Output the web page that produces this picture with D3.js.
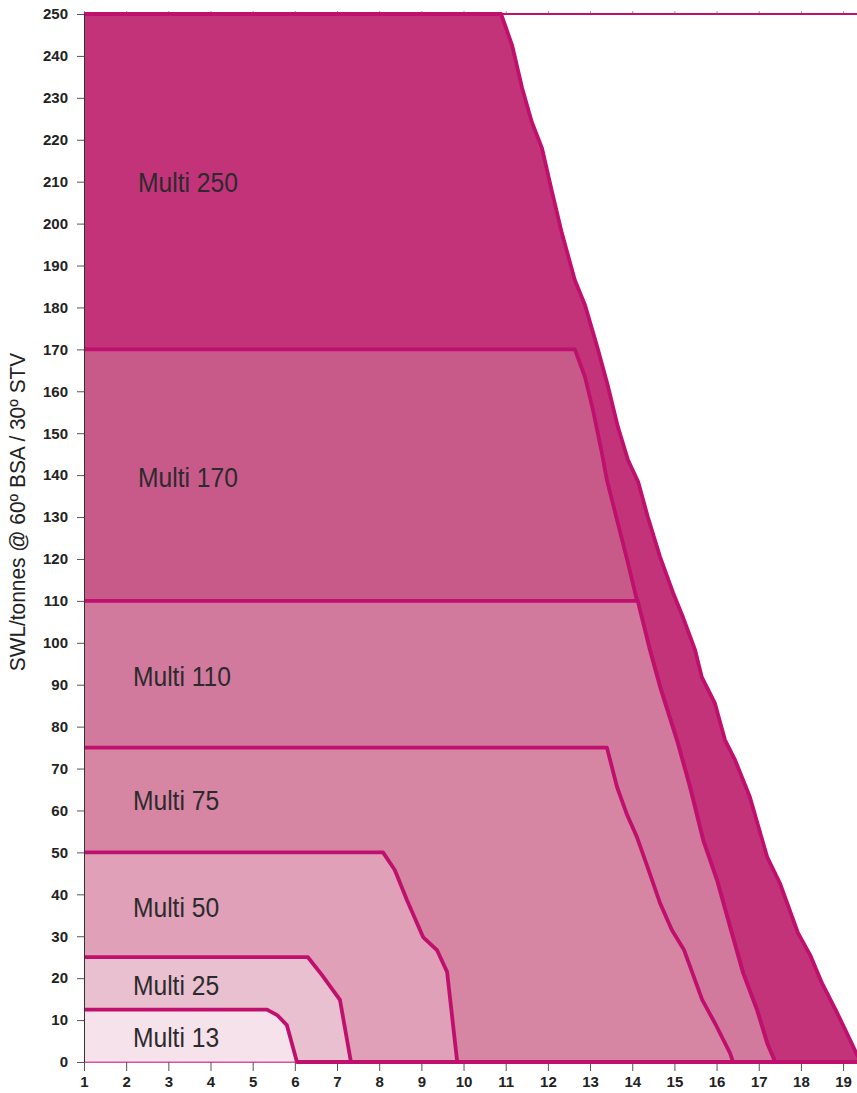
<!DOCTYPE html>
<html>
<head>
<meta charset="utf-8">
<script src="https://cdn.jsdelivr.net/npm/d3@7"></script>
<style>
  body { margin: 0; background: #fff; }
  text { font-family: "Liberation Sans", Arial, sans-serif; }
</style>
</head>
<body>
<div id="wrapper"></div>
<script>
// Werte
const seriesNames = ["Multi 250", "Multi 170", "Multi 110", "Multi 75", "Multi 50", "Multi 25", "Multi 13"];
const capacities = [250, 170, 110, 75, 50, 25, 12.5];

// Kurvenpunkte [Ausladung, SWL] nach dem Plateau
const curve250 = [[10.89, 250], [11.15, 242.6], [11.39, 232.3], [11.62, 224.2], [11.86, 218], [12.1, 207.5],
  [12.33, 197.8], [12.64, 186.5], [12.88, 180.6], [13.17, 170.6], [13.43, 161], [13.66, 151.5], [13.9, 143.6],
  [14.14, 138.4], [14.37, 130], [14.66, 120.5], [14.97, 111.9], [15.2, 106.2], [15.49, 98.3], [15.65, 91.8],
  [15.96, 85.6], [16.2, 76.8], [16.44, 72], [16.79, 63.2], [17.2, 48.9], [17.5, 42.7], [17.93, 30.8],
  [18.22, 25.5], [18.5, 18.8], [18.86, 11.7], [19.17, 5.2], [19.33, 1.7], [19.45, 0]];
const curve170 = [[12.64, 170], [12.88, 163.4], [13.07, 155.5], [13.28, 145.3], [13.4, 138.8], [13.64, 129.3],
  [13.88, 119.8], [14.11, 110.2], [14.42, 98.3], [14.66, 89.5], [15.06, 76.8], [15.37, 65.6], [15.68, 53],
  [16.01, 43.4], [16.32, 32.2], [16.63, 21.2], [16.96, 12.4], [17.2, 4.5], [17.39, 0]];
const curve110 = [[14.13, 110], [14.42, 98.3], [14.66, 89.5], [15.06, 76.8], [15.37, 65.6], [15.68, 53],
  [16.01, 43.4], [16.32, 32.2], [16.63, 21.2], [16.96, 12.4], [17.2, 4.5], [17.39, 0]];
const curve75 = [[13.4, 75], [13.64, 65.6], [13.88, 58.9], [14.11, 53.7], [14.37, 46.3], [14.66, 37.9],
  [14.94, 31.5], [15.23, 26.7], [15.66, 14.8], [15.96, 9.3], [16.32, 2.1], [16.39, 0]];
const curve50 = [[8.09, 50], [8.37, 45.8], [8.66, 38.6], [9.04, 29.8], [9.37, 26.7], [9.61, 21.5], [9.85, 0]];
const curve25 = [[6.31, 25], [6.64, 20.8], [7.07, 14.8], [7.33, 0]];
const curve13 = [[5.34, 12.5], [5.58, 11.2], [5.81, 8.8], [6.05, 0]];
const curves = [curve250, curve170, curve110, curve75, curve50, curve25, curve13];

// Beschriftungen in Datenkoordinaten
const labelX = [2.28, 2.28, 2.16, 2.16, 2.16, 2.16, 2.16];
const labelY = [210, 139.5, 92, 62.5, 37, 18.5, 6];

const xTickValues = [1, 2, 3, 4, 5, 6, 7, 8, 9, 10, 11, 12, 13, 14, 15, 16, 17, 18, 19];
const yTickValues = [0, 10, 20, 30, 40, 50, 60, 70, 80, 90, 100, 110, 120, 130, 140, 150, 160, 170, 180, 190,
  200, 210, 220, 230, 240, 250];
const xMax = 19.33;

const fills = ["#c2337a", "#c85a8a", "#d27a9d", "#d685a3", "#dfa0b8", "#e9c0d0", "#f5e2eb"];
const lineColor = "#c0106e";

const dimensions = {
  width: 857,
  height: 1093,
  margin: { top: 14, right: 0, bottom: 31, left: 84 },
};
dimensions.boundedWidth = dimensions.width - dimensions.margin.left - dimensions.margin.right;
dimensions.boundedHeight = dimensions.height - dimensions.margin.top - dimensions.margin.bottom;

const wrapper = d3.select("#wrapper")
  .append("svg")
  .attr("width", dimensions.width)
  .attr("height", dimensions.height);

const bounds = wrapper.append("g")
  .attr("transform", `translate(${dimensions.margin.left},${dimensions.margin.top})`);

const xScale = d3.scaleLinear().domain([1, xMax]).range([0, dimensions.boundedWidth]);
const yScale = d3.scaleLinear().domain([0, 250]).range([dimensions.boundedHeight, 0]);

bounds.append("clipPath").attr("id", "plot")
  .append("rect")
  .attr("x", 0).attr("y", -10)
  .attr("width", dimensions.boundedWidth).attr("height", dimensions.boundedHeight + 20);

// obere Achse (nur Striche)
const topAxis = bounds.append("g")
  .call(d3.axisTop(xScale).tickValues(xTickValues).tickSize(3).tickFormat(""));
topAxis.select(".domain").remove();
topAxis.selectAll("line").attr("stroke", "#999");

bounds.append("line")
  .attr("x1", xScale(1)).attr("x2", dimensions.boundedWidth)
  .attr("y1", yScale(250)).attr("y2", yScale(250))
  .attr("stroke", lineColor).attr("stroke-width", 2);

const plot = bounds.append("g").attr("clip-path", "url(#plot)");

const areaGen = d3.area().x(d => xScale(d[0])).y0(yScale(0)).y1(d => yScale(d[1]));
const lineGen = d3.line().x(d => xScale(d[0])).y(d => yScale(d[1]));

seriesNames.forEach((name, i) => {
  const pts = [[1, capacities[i]], ...curves[i]];
  const last = pts[pts.length - 1][0];
  if (last < xMax + 0.2) pts.push([xMax + 0.2, 0]);

  plot.append("path")
    .datum(pts)
    .attr("d", areaGen)
    .attr("fill", fills[i])
    .attr("stroke", "#d9539a")
    .attr("stroke-width", 1);

  plot.append("path")
    .datum(pts)
    .attr("d", lineGen)
    .attr("fill", "none")
    .attr("stroke", lineColor)
    .attr("stroke-width", 3.8)
    .attr("stroke-linejoin", "round");
});

// Beschriftungen (schmale Schrift nachgebildet)
seriesNames.forEach((name, i) => {
  bounds.append("text")
    .attr("transform", `translate(${xScale(labelX[i])},${yScale(labelY[i])}) scale(0.88,1)`)
    .attr("dy", "0.36em")
    .style("font-size", "28px")
    .style("fill", "#2b2a2c")
    .text(name);
});

// Achsen
const yAxis = bounds.append("g")
  .call(d3.axisLeft(yScale).tickValues(yTickValues).tickSize(7).tickPadding(9));
yAxis.select(".domain").attr("stroke", "#333");
yAxis.selectAll(".tick line").attr("stroke", "#555");
yAxis.selectAll("text")
  .style("font-size", "15px").style("font-weight", "bold").style("fill", "#222");

const xAxis = bounds.append("g")
  .attr("transform", `translate(0,${dimensions.boundedHeight})`)
  .call(d3.axisBottom(xScale).tickValues(xTickValues).tickSize(9).tickPadding(5));
xAxis.select(".domain").remove();
xAxis.selectAll(".tick line").attr("stroke", "#555");
xAxis.selectAll("text")
  .style("font-size", "15px").style("font-weight", "bold").style("fill", "#222");

// Linie auf der Nulllinie nach vorne holen
bounds.append("line")
  .attr("x1", xScale(curve13[curve13.length - 1][0])).attr("x2", dimensions.boundedWidth)
  .attr("y1", yScale(0)).attr("y2", yScale(0))
  .attr("stroke", lineColor).attr("stroke-width", 3.8);

wrapper.append("text")
  .attr("transform", `translate(25, 512) rotate(-90) scale(0.95,1)`)
  .attr("text-anchor", "middle")
  .style("font-size", "22px")
  .style("fill", "#222")
  .text("SWL/tonnes @ 60º BSA / 30º STV");
</script>
</body>
</html>
